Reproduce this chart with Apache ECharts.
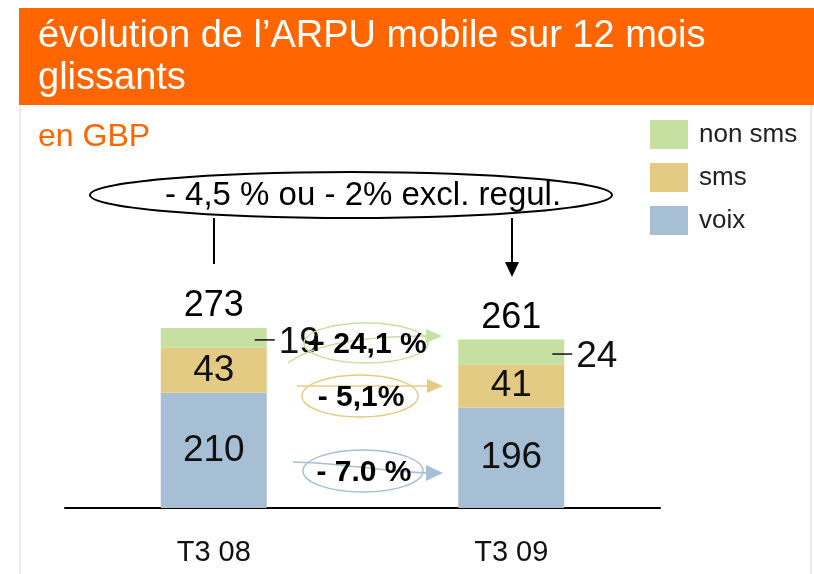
<!DOCTYPE html>
<html lang="fr">
<head>
    <meta charset="UTF-8">
    <title>évolution de l'ARPU mobile</title>
    <style type="text/css">
        body { margin: 0; background: #fff; }
        #main { width: 814px; height: 574px; }
    </style>
    <script src="https://cdn.jsdelivr.net/npm/echarts@6.0.0/dist/echarts.min.js"></script>
</head>
<body>
    <div id="main"></div>
    <script type="text/javascript">
        // données
        var categories = ['T3 08', 'T3 09'];
        var voix = [210, 196];
        var sms = [43, 41];
        var nonSms = [19, 24];
        var totals = [273, 261];
        var changes = ['+ 24,1 %', '- 5,1%', '- 7.0 %'];
        var headline = '- 4,5 % ou - 2% excl. regul.';

        var cVoix = '#a7bfd4', cSms = '#e4cb83', cNon = '#c6e0a2', orange = '#ff6600';
        var font = 'Liberation Sans, Arial, sans-serif';

        var myChart = echarts.init(document.getElementById('main'));

        // bulle + flèche courbe pour chaque évolution
        function bubble(cx, cy, rx, ry, color, text, curve, head) {
            return [
                { type: 'bezierCurve', z: 100, shape: curve, style: { fill: null, stroke: color, lineWidth: 1.5 } },
                { type: 'polygon', z: 100, shape: { points: head }, style: { fill: color } },
                { type: 'ellipse', z: 101, shape: { cx: cx, cy: cy, rx: rx, ry: ry }, style: { fill: null, stroke: color, lineWidth: 1.5 } },
                { type: 'text', z: 102, x: cx + 1, y: cy + 2, style: { text: text, font: 'bold 30px ' + font, fill: '#000', align: 'center', verticalAlign: 'middle' } }
            ];
        }

        var graphics = [
            { type: 'rect', shape: { x: 19, y: 8, width: 795, height: 97 }, style: { fill: orange } },
            { type: 'line', shape: { x1: 20, y1: 105, x2: 20, y2: 574 }, style: { stroke: '#d8d8d8', lineWidth: 1 } },
            { type: 'line', shape: { x1: 811, y1: 105, x2: 811, y2: 574 }, style: { stroke: '#d8d8d8', lineWidth: 1 } },
            { type: 'text', x: 38, y: 16, style: { text: 'évolution de l’ARPU mobile sur 12 mois\nglissants', font: '38px ' + font, lineHeight: 42, fill: '#fff' } },
            { type: 'text', x: 38, y: 121, style: { text: 'en GBP', font: '32px ' + font, fill: orange } },
            // ellipse du haut
            { type: 'ellipse', z: 100, shape: { cx: 351, cy: 195, rx: 261, ry: 23 }, style: { fill: '#fff', stroke: '#000', lineWidth: 2 } },
            { type: 'text', z: 101, x: 363, y: 196, style: { text: headline, font: '33px ' + font, fill: '#000', align: 'center', verticalAlign: 'middle' } },
            { type: 'line', z: 100, shape: { x1: 214, y1: 218, x2: 214, y2: 264 }, style: { stroke: '#000', lineWidth: 2 } },
            { type: 'line', z: 100, shape: { x1: 512, y1: 218, x2: 512, y2: 264 }, style: { stroke: '#000', lineWidth: 2 } },
            { type: 'polygon', z: 100, shape: { points: [[505, 262], [519, 262], [512, 277]] }, style: { fill: '#000' } }
        ];
        graphics = graphics
            .concat(bubble(366, 343, 62, 20, cNon, changes[0],
                { x1: 288, y1: 363, x2: 428, y2: 336, cpx1: 320, cpy1: 340, cpx2: 380, cpy2: 336 },
                [[426, 329], [442, 336], [426, 343]]))
            .concat(bubble(360, 396, 58, 21, cSms, changes[1],
                { x1: 297, y1: 386, x2: 428, y2: 386, cpx1: 340, cpy1: 386, cpx2: 390, cpy2: 386 },
                [[427, 379], [443, 386], [427, 393]]))
            .concat(bubble(363, 471, 60, 21, cVoix, changes[2],
                { x1: 293, y1: 462, x2: 428, y2: 473, cpx1: 330, cpy1: 462, cpx2: 400, cpy2: 473 },
                [[426, 465], [443, 473], [426, 481]]));

        var option = {
            animation: false,
            textStyle: { fontFamily: font },
            grid: { left: 65, right: 154, top: 194, bottom: 66 },
            legend: {
                orient: 'vertical',
                left: 645,
                top: 115,
                itemWidth: 38,
                itemHeight: 29,
                itemGap: 14,
                icon: 'rect',
                data: ['non sms', 'sms', 'voix'],
                textStyle: { fontSize: 26, color: '#222', padding: [0, 0, 0, 6] }
            },
            xAxis: {
                type: 'category',
                data: categories,
                axisLine: { lineStyle: { color: '#000', width: 2 } },
                axisTick: { show: false },
                axisLabel: { fontSize: 29, color: '#111', margin: 30 }
            },
            yAxis: {
                type: 'value',
                min: 100,
                max: 400,
                show: false,
                splitLine: { show: false }
            },
            series: [
                {
                    name: 'voix', type: 'bar', stack: 'a', barWidth: 106, data: voix,
                    itemStyle: { color: cVoix },
                    label: { show: true, position: 'inside', fontSize: 37, color: '#111' }
                },
                {
                    name: 'sms', type: 'bar', stack: 'a', data: sms,
                    itemStyle: { color: cSms },
                    label: { show: true, position: 'inside', fontSize: 37, color: '#111' }
                },
                {
                    name: 'non sms', type: 'bar', stack: 'a', data: nonSms,
                    itemStyle: { color: cNon },
                    label: {
                        show: true, position: 'right', distance: 0, offset: [-12, 2],
                        formatter: '{l|}{v|{c}}',
                        rich: {
                            l: { width: 20, height: 1.5, backgroundColor: '#111' },
                            v: { fontSize: 37, color: '#111', padding: [5, 0, 0, 4] }
                        }
                    }
                },
                {
                    name: 'total', type: 'scatter', data: totals, symbolSize: 0,
                    itemStyle: { opacity: 1 },
                    label: { show: true, position: 'top', distance: 3, fontSize: 36, color: '#000', formatter: '{c}' }
                }
            ],
            graphic: graphics
        };
        myChart.setOption(option);
    </script>
</body>
</html>
